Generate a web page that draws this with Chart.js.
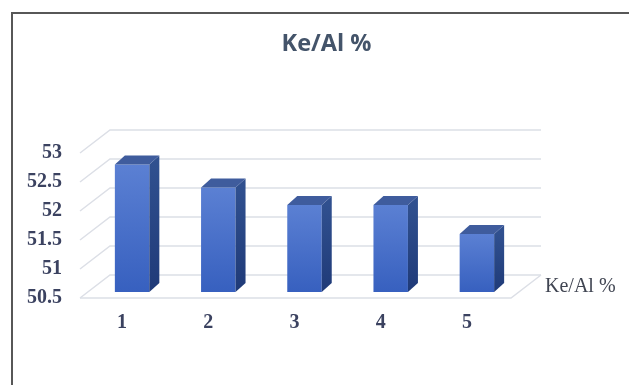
<!DOCTYPE html>
<html>
<head>
<meta charset="utf-8">
<script src="https://cdn.jsdelivr.net/npm/chart.js@4/dist/chart.umd.min.js"></script>
<style>
  html, body { margin: 0; padding: 0; background: #ffffff; }
  #wrap { position: relative; width: 629px; height: 385px; }
</style>
</head>
<body>
<div id="wrap"><canvas id="c"></canvas></div>
<script>
// Data
const chartTitle = 'Ke/Al %';
const seriesName = 'Ke/Al %';
const categories = ['1', '2', '3', '4', '5'];
const keAlValues = [52.7, 52.3, 52.0, 52.0, 51.5];
const yTicks = [50.5, 51, 51.5, 52, 52.5, 53];

// Pseudo-3D offsets (pixels) relative to the plane the bars stand in
const FRONT = { dx: -9, dy: 6 };   // front edge of the floor
const BACK = { dx: 21, dy: -17 };  // back wall
const DEPTH = { dx: 10, dy: 9 };   // depth of each column

const labelFont = { family: "'Liberation Serif', 'DejaVu Serif', serif", size: 20, weight: 'bold' };
const labelColor = '#3b4260';

const depthPlugin = {
  id: 'depth',
  beforeDraw(chart) {
    const ctx = chart.ctx;
    ctx.save();
    ctx.strokeStyle = '#575757';
    ctx.lineWidth = 2;
    ctx.beginPath();
    ctx.moveTo(12, chart.height);
    ctx.lineTo(12, 13);
    ctx.lineTo(chart.width, 13);
    ctx.stroke();
    ctx.restore();
  },
  beforeDatasetsDraw(chart) {
    const ctx = chart.ctx;
    const { left, right } = chart.chartArea;
    const ys = chart.scales.y;
    ctx.save();
    ctx.strokeStyle = '#dcdfe6';
    ctx.lineWidth = 1.5;
    yTicks.forEach(v => {
      const y = ys.getPixelForValue(v);
      ctx.beginPath();
      ctx.moveTo(left + FRONT.dx, y + FRONT.dy);
      ctx.lineTo(left + BACK.dx, y + BACK.dy);
      ctx.lineTo(right + BACK.dx, y + BACK.dy);
      ctx.stroke();
    });
    // floor front and right edges
    const yb = ys.getPixelForValue(ys.min);
    ctx.beginPath();
    ctx.moveTo(left + FRONT.dx, yb + FRONT.dy);
    ctx.lineTo(right + FRONT.dx, yb + FRONT.dy);
    ctx.lineTo(right + BACK.dx, yb + BACK.dy);
    ctx.stroke();
    ctx.restore();
  },
  afterDatasetsDraw(chart) {
    const ctx = chart.ctx;
    const meta = chart.getDatasetMeta(0);
    const ys = chart.scales.y;
    const yb = ys.getPixelForValue(ys.min);
    ctx.save();
    meta.data.forEach(bar => {
      const { x, y, width } = bar.getProps(['x', 'y', 'width'], true);
      const base = yb;
      const l = x - width / 2, r = x + width / 2;
      // right side face
      const side = ctx.createLinearGradient(0, y, 0, base);
      side.addColorStop(0, '#30508f');
      side.addColorStop(1, '#1f3a78');
      ctx.fillStyle = side;
      ctx.beginPath();
      ctx.moveTo(r, y);
      ctx.lineTo(r + DEPTH.dx, y - DEPTH.dy);
      ctx.lineTo(r + DEPTH.dx, base - DEPTH.dy);
      ctx.lineTo(r, base);
      ctx.closePath();
      ctx.fill();
      // top face
      ctx.fillStyle = '#3f5c9d';
      ctx.beginPath();
      ctx.moveTo(l, y);
      ctx.lineTo(l + DEPTH.dx, y - DEPTH.dy);
      ctx.lineTo(r + DEPTH.dx, y - DEPTH.dy);
      ctx.lineTo(r, y);
      ctx.closePath();
      ctx.fill();
    });
    // series name on the depth axis
    ctx.fillStyle = '#404552';
    ctx.font = "20px 'Liberation Serif', 'DejaVu Serif', serif";
    ctx.textAlign = 'left';
    ctx.textBaseline = 'middle';
    ctx.fillText(seriesName, chart.chartArea.right + 25, yb - 5);
    ctx.restore();
  }
};

new Chart(document.getElementById('c'), {
  type: 'bar',
  data: {
    labels: categories,
    datasets: [{
      label: seriesName,
      data: keAlValues,
      categoryPercentage: 1,
      barPercentage: 0.4,
      backgroundColor(context) {
        const chart = context.chart;
        if (!chart.chartArea || context.raw === undefined) return '#4a70c8';
        const ys = chart.scales.y;
        const top = ys.getPixelForValue(context.raw);
        const bot = ys.getPixelForValue(ys.min);
        const g = chart.ctx.createLinearGradient(0, top, 0, bot);
        g.addColorStop(0, '#5b80d3');
        g.addColorStop(1, '#3760bf');
        return g;
      },
      borderWidth: 0
    }]
  },
  options: {
    responsive: true,
    maintainAspectRatio: false,
    animation: false,
    layout: { padding: { top: 0, right: 0, bottom: 0, left: 24 } },
    plugins: {
      legend: { display: false },
      tooltip: { enabled: false },
      title: {
        display: true,
        text: chartTitle,
        color: '#44546a',
        font: { family: "'Open Sans', sans-serif", size: 23.5, weight: 'bold' },
        padding: { top: 30, bottom: 88.8 }
      }
    },
    scales: {
      x: {
        grid: { display: false, drawTicks: false },
        border: { display: false },
        ticks: { padding: 19, labelOffset: -10, color: labelColor, font: labelFont, maxRotation: 0 },
        afterFit(s) { s.height = 93; }
      },
      y: {
        min: 50.5,
        max: 53,
        grid: { display: false, drawTicks: false },
        border: { display: false },
        ticks: {
          padding: 27,
          labelOffset: 6,
          color: labelColor,
          font: labelFont,
          callback: v => String(v)
        },
        afterBuildTicks(s) { s.ticks = yTicks.map(v => ({ value: v })); },
        afterFit(s) { s.width = 65; }
      },
      // empty right-hand band that leaves room for the depth-axis label
      side: {
        type: 'linear',
        position: 'right',
        grid: { display: false, drawTicks: false },
        border: { display: false },
        ticks: { display: false },
        afterFit(s) { s.width = 109; }
      }
    }
  },
  plugins: [depthPlugin]
});
</script>
</body>
</html>
